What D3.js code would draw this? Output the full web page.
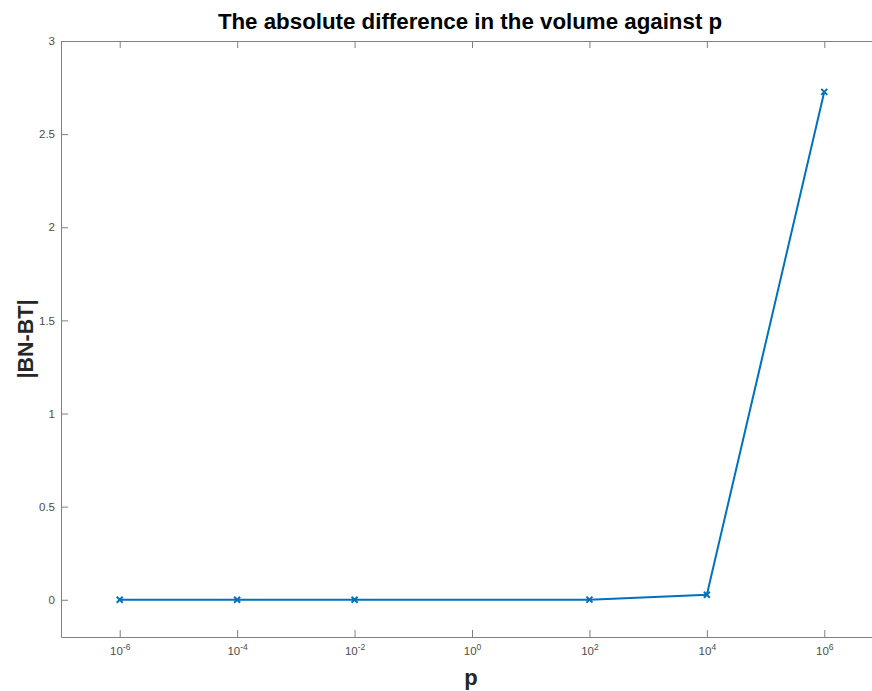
<!DOCTYPE html>
<html>
<head>
<meta charset="utf-8">
<script src="https://cdn.jsdelivr.net/npm/d3@7"></script>
<style>
  body { margin: 0; background: #fff; }
  svg { font-family: "Liberation Sans", Arial, Helvetica, sans-serif; }
  .axis { font-family: "Liberation Sans", Arial, Helvetica, sans-serif; }
  .axis text { fill: #4d4d4d; font-size: 11.5px; }
  .axis path, .axis line { stroke: #808080; }
</style>
</head>
<body>
<svg id="chart" width="872" height="691"></svg>
<script>
const pValues = [1e-6, 1e-4, 1e-2, 1e2, 1e4, 1e6];
const diffValues = [0, 0, 0, 0.0005, 0.027, 2.727];
const xTicks = [1e-6, 1e-4, 1e-2, 1e0, 1e2, 1e4, 1e6];
const yTicks = [0, 0.5, 1, 1.5, 2, 2.5, 3];

const svg = d3.select("#chart");
const margin = { top: 41, right: -11, bottom: 54, left: 61 };
const width = 872, height = 691;

const x = d3.scaleLog()
  .domain([1e-7, 1e7])
  .range([margin.left, width - margin.right]);

const y = d3.scaleLinear()
  .domain([-0.2, 3])
  .range([height - margin.bottom, margin.top]);

const tick = 7;

// bottom axis, ticks pointing in
const gx = svg.append("g")
  .attr("class", "axis")
  .attr("transform", `translate(0,${y(-0.2)})`)
  .call(d3.axisBottom(x).tickValues(xTicks).tickSizeInner(-tick).tickSizeOuter(0).tickFormat(""));
gx.selectAll(".tick").append("text")
  .attr("y", 18)
  .attr("text-anchor", "middle")
  .each(function(d) {
    const t = d3.select(this);
    t.append("tspan").text("10");
    t.append("tspan")
      .attr("dy", -5)
      .attr("font-size", "8.5px")
      .text(Math.round(Math.log10(d)));
  });

// top axis mirror
svg.append("g")
  .attr("class", "axis")
  .attr("transform", `translate(0,${y(3)})`)
  .call(d3.axisTop(x).tickValues(xTicks).tickSizeInner(-tick).tickSizeOuter(0).tickFormat(""));

// left axis
svg.append("g")
  .attr("class", "axis")
  .attr("transform", `translate(${x(1e-7)},0)`)
  .call(d3.axisLeft(y).tickValues(yTicks).tickSizeInner(-tick).tickSizeOuter(0)
    .tickFormat(d3.format("~g")))
  .call(g => g.selectAll(".tick text").attr("x", -6));

// line
const line = d3.line()
  .x((d, i) => x(pValues[i]))
  .y(d => y(d));

svg.append("path")
  .datum(diffValues)
  .attr("fill", "none")
  .attr("stroke", "#0072bd")
  .attr("stroke-width", 2)
  .attr("d", line);

const s = 3;
svg.selectAll("path.marker")
  .data(diffValues)
  .join("path")
  .attr("class", "marker")
  .attr("stroke", "#0072bd")
  .attr("stroke-width", 2)
  .attr("d", (d, i) => {
    const cx = x(pValues[i]), cy = y(d);
    return `M${cx - s},${cy - s}L${cx + s},${cy + s}M${cx - s},${cy + s}L${cx + s},${cy - s}`;
  });

// title and labels
const midX = (x(1e-7) + x(1e7)) / 2;
svg.append("text")
  .attr("x", midX - 2)
  .attr("y", 29)
  .attr("text-anchor", "middle")
  .attr("font-weight", "bold")
  .attr("font-size", "22.3px")
  .attr("fill", "#000")
  .text("The absolute difference in the volume against p");

svg.append("text")
  .attr("x", midX - 1)
  .attr("y", 685)
  .attr("text-anchor", "middle")
  .attr("font-weight", "bold")
  .attr("font-size", "22px")
  .attr("fill", "#262626")
  .text("p");

svg.append("text")
  .attr("transform", `translate(33,${(y(3) + y(-0.2)) / 2}) rotate(-90)`)
  .attr("text-anchor", "middle")
  .attr("font-weight", "bold")
  .attr("font-size", "21.5px")
  .attr("fill", "#262626")
  .text("|BN-BT|");
</script>
</body>
</html>
